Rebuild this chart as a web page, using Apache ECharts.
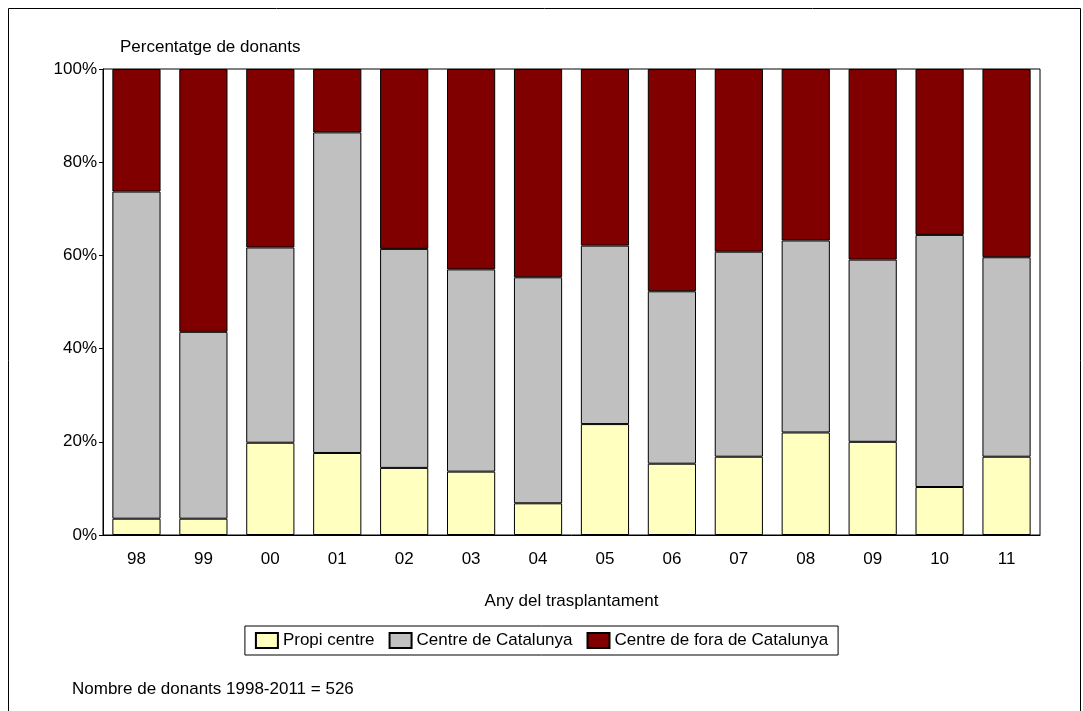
<!DOCTYPE html>
<html><head><meta charset="utf-8">
<script src="https://cdn.jsdelivr.net/npm/echarts@6/dist/echarts.min.js"></script>
<style>html,body{margin:0;background:#fff}#c{width:1083px;height:711px}</style>
</head><body><div id="c"></div>
<script>
var years = ['98','99','00','01','02','03','04','05','06','07','08','09','10','11'];
var propi = [3.5, 3.5, 19.8, 17.6, 14.4, 13.6, 6.8, 23.8, 15.3, 16.8, 22.0, 20.0, 10.3, 16.8];
var catalunya = [70.2, 40.1, 41.9, 68.8, 47.0, 43.4, 48.5, 38.3, 37.0, 44.0, 41.2, 39.1, 54.1, 42.8];
var fora = propi.map(function(p, i) { return +(100 - p - catalunya[i]).toFixed(1); });

var font = 'Liberation Sans';
var bar = function(name, data, color) {
    return {
        name: name, type: 'bar', stack: 'a', barWidth: '72%', data: data,
        itemStyle: { color: color, borderColor: '#000', borderWidth: 1 }
    };
};

var chart = echarts.init(document.getElementById('c'));
chart.setOption({
    animation: false,
    textStyle: { fontFamily: font, color: '#000' },
    grid: { left: 103, right: 43, top: 69, bottom: 176 },
    graphic: [
        { type: 'rect', shape: { x: 8.5, y: 8.5, width: 1072, height: 720 }, style: { fill: 'none', stroke: '#000', lineWidth: 1 } },
        { type: 'rect', shape: { x: 103, y: 69, width: 937, height: 466 }, style: { fill: 'none', stroke: '#000', lineWidth: 1 } },
        { type: 'text', left: 120, top: 39, style: { text: 'Percentatge de donants', font: '17px Liberation Sans', fill: '#000' } },
        { type: 'text', left: 72, top: 681, style: { text: 'Nombre de donants 1998-2011 = 526', font: '17px Liberation Sans', fill: '#000' } }
    ],
    legend: {
        top: 626, left: 'center', icon: 'rect', itemWidth: 22, itemHeight: 15, itemGap: 14,
        borderColor: '#000', borderWidth: 1, padding: [6, 10],
        textStyle: { fontFamily: font, fontSize: 17, color: '#000' },
        data: ['Propi centre', 'Centre de Catalunya', 'Centre de fora de Catalunya']
    },
    xAxis: {
        type: 'category', data: years,
        name: 'Any del trasplantament', nameLocation: 'middle', nameGap: 58,
        nameTextStyle: { fontSize: 17, color: '#000' },
        axisLine: { lineStyle: { color: '#000' } },
        axisTick: { show: false },
        axisLabel: { fontSize: 17, color: '#000', margin: 16 }
    },
    yAxis: {
        type: 'value', min: 0, max: 100, interval: 20,
        axisLine: { show: true, lineStyle: { color: '#000' } },
        axisTick: { show: true, length: 4, lineStyle: { color: '#000' } },
        splitLine: { show: false },
        axisLabel: { fontSize: 17, color: '#000', formatter: '{value}%', margin: 6 }
    },
    series: [
        bar('Propi centre', propi, '#ffffc0'),
        bar('Centre de Catalunya', catalunya, '#c0c0c0'),
        bar('Centre de fora de Catalunya', fora, '#800000')
    ]
});
</script></body></html>
